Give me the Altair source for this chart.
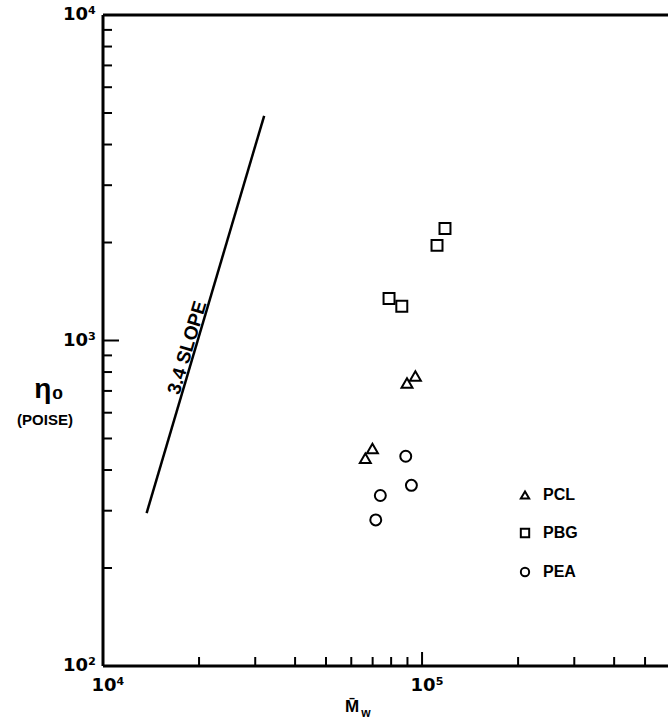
import altair as alt
import pandas as pd

# ---- data ----
series_names = ["PCL", "PBG", "PEA"]
series_shapes = ["triangle-up", "square", "circle"]

pcl_mw = [95300, 89700, 69900, 66400]
pcl_eta = [778, 740, 466, 435]
pbg_mw = [118000, 111400, 78800, 86400]
pbg_eta = [2210, 1960, 1345, 1275]
pea_mw = [88900, 92600, 74000, 71600]
pea_eta = [441, 359, 334, 281]

slope_mw = [13700, 32000]
slope_eta = [295, 4900]
slope_label = ["3.4 SLOPE"]
slope_label_mw = [19400]
slope_label_eta = [935]

x_minor_ticks = [20000, 30000, 40000, 50000, 60000, 70000, 80000, 90000,
                 200000, 300000, 400000, 500000]
x_major_ticks = [100000]
y_minor_ticks = [200, 300, 400, 500, 600, 700, 800, 900,
                 2000, 3000, 4000, 5000, 6000, 7000, 8000, 9000]
y_major_ticks = [1000]

x_label_values = [10000, 100000]
x_label_text = ["10⁴", "10⁵"]
y_label_values = [100, 1000, 10000]
y_label_text = ["10²", "10³", "10⁴"]

X_DOMAIN = [10000, 590000]
Y_DOMAIN = [100, 10000]
W, H = 565, 651
FONT = "Liberation Sans"
TICK_FONT = "DejaVu Sans"

# ---- tables ----
pts = pd.concat([
    pd.DataFrame({"mw": pcl_mw, "eta": pcl_eta, "series": "PCL"}),
    pd.DataFrame({"mw": pbg_mw, "eta": pbg_eta, "series": "PBG"}),
    pd.DataFrame({"mw": pea_mw, "eta": pea_eta, "series": "PEA"}),
], ignore_index=True)
slope_df = pd.DataFrame({"mw": slope_mw, "eta": slope_eta})
slope_txt = pd.DataFrame({"mw": slope_label_mw, "eta": slope_label_eta, "t": slope_label})

xscale = alt.Scale(type="log", domain=X_DOMAIN, nice=False)
yscale = alt.Scale(type="log", domain=Y_DOMAIN, nice=False)


def X(field):
    return alt.X(field, scale=xscale, axis=None)


def Y(field):
    return alt.Y(field, scale=yscale, axis=None)


points = alt.Chart(pts).mark_point(filled=False, strokeWidth=2, size=120,
                                   color="black", opacity=1).encode(
    x=X("mw:Q"),
    y=Y("eta:Q"),
    shape=alt.Shape("series:N",
                    scale=alt.Scale(domain=series_names, range=series_shapes),
                    legend=alt.Legend(title=None, orient="none", legendX=414,
                                      legendY=472, symbolSize=70,
                                      symbolStrokeWidth=2,
                                      symbolStrokeColor="black",
                                      labelFont=FONT, labelFontSize=16,
                                      labelFontWeight="bold", labelColor="black",
                                      labelOffset=10, rowPadding=21, padding=0)),
)

slope = alt.Chart(slope_df).mark_line(color="black", strokeWidth=2.5).encode(
    x=X("mw:Q"), y=Y("eta:Q"))

slope_text = alt.Chart(slope_txt).mark_text(
    angle=286.5, align="center", baseline="alphabetic", dy=-2,
    font=FONT, fontSize=19, fontWeight="bold", color="black").encode(
    x=X("mw:Q"), y=Y("eta:Q"), text="t:N")


def xticks(vals, length):
    return alt.Chart(pd.DataFrame({"mw": vals})).mark_rule(
        color="black", strokeWidth=2).encode(
        x=X("mw:Q"), y=alt.value(H), y2=alt.value(H - length))


def yticks(vals, length):
    return alt.Chart(pd.DataFrame({"eta": vals})).mark_rule(
        color="black", strokeWidth=2).encode(
        y=Y("eta:Q"), x=alt.value(0), x2=alt.value(length))


x_tick_labels = alt.Chart(pd.DataFrame({"mw": x_label_values, "t": x_label_text})
).mark_text(font=TICK_FONT, fontSize=18, fontWeight="bold", color="black",
            align="center", baseline="top", dx=5).encode(
    x=X("mw:Q"), y=alt.value(H + 11), text="t:N")

y_tick_labels = alt.Chart(pd.DataFrame({"eta": y_label_values, "t": y_label_text})
).mark_text(font=TICK_FONT, fontSize=18, fontWeight="bold", color="black",
            align="right", baseline="middle").encode(
    y=Y("eta:Q"), x=alt.value(-7), text="t:N")

frame = pd.DataFrame({"a": [0]})
top_line = alt.Chart(frame).mark_rule(color="black", strokeWidth=3).encode(
    x=alt.value(0), x2=alt.value(W), y=alt.value(0))
left_line = alt.Chart(frame).mark_rule(color="black", strokeWidth=3).encode(
    x=alt.value(0), y=alt.value(0), y2=alt.value(H))
bottom_line = alt.Chart(frame).mark_rule(color="black", strokeWidth=3).encode(
    x=alt.value(0), x2=alt.value(W), y=alt.value(H))


def label(text, x, y, size, align="center"):
    return alt.Chart(pd.DataFrame({"t": [text]})).mark_text(
        font=FONT, fontSize=size, fontWeight="bold", color="black",
        align=align, baseline="middle").encode(
        x=alt.value(x), y=alt.value(y), text="t:N")


chart = alt.layer(
    points, slope, slope_text,
    xticks(x_minor_ticks, 9), xticks(x_major_ticks, 14),
    yticks(y_minor_ticks, 9), yticks(y_major_ticks, 16),
    x_tick_labels, y_tick_labels,
    top_line, left_line, bottom_line,
    label("η₀", -54, 375, 28),
    label("(POISE)", -58, 405, 15),
    label("M̄", 249, 692, 17),
    label("w", 263, 698, 12),
).properties(
    width=W, height=H, background="white",
    autosize=alt.AutoSizeParams(type="none"),
    padding={"left": 103, "top": 15, "right": 0, "bottom": 54},
).configure_view(stroke=None)

chart.save("out.html", embed_options={"renderer": "svg", "actions": False})
